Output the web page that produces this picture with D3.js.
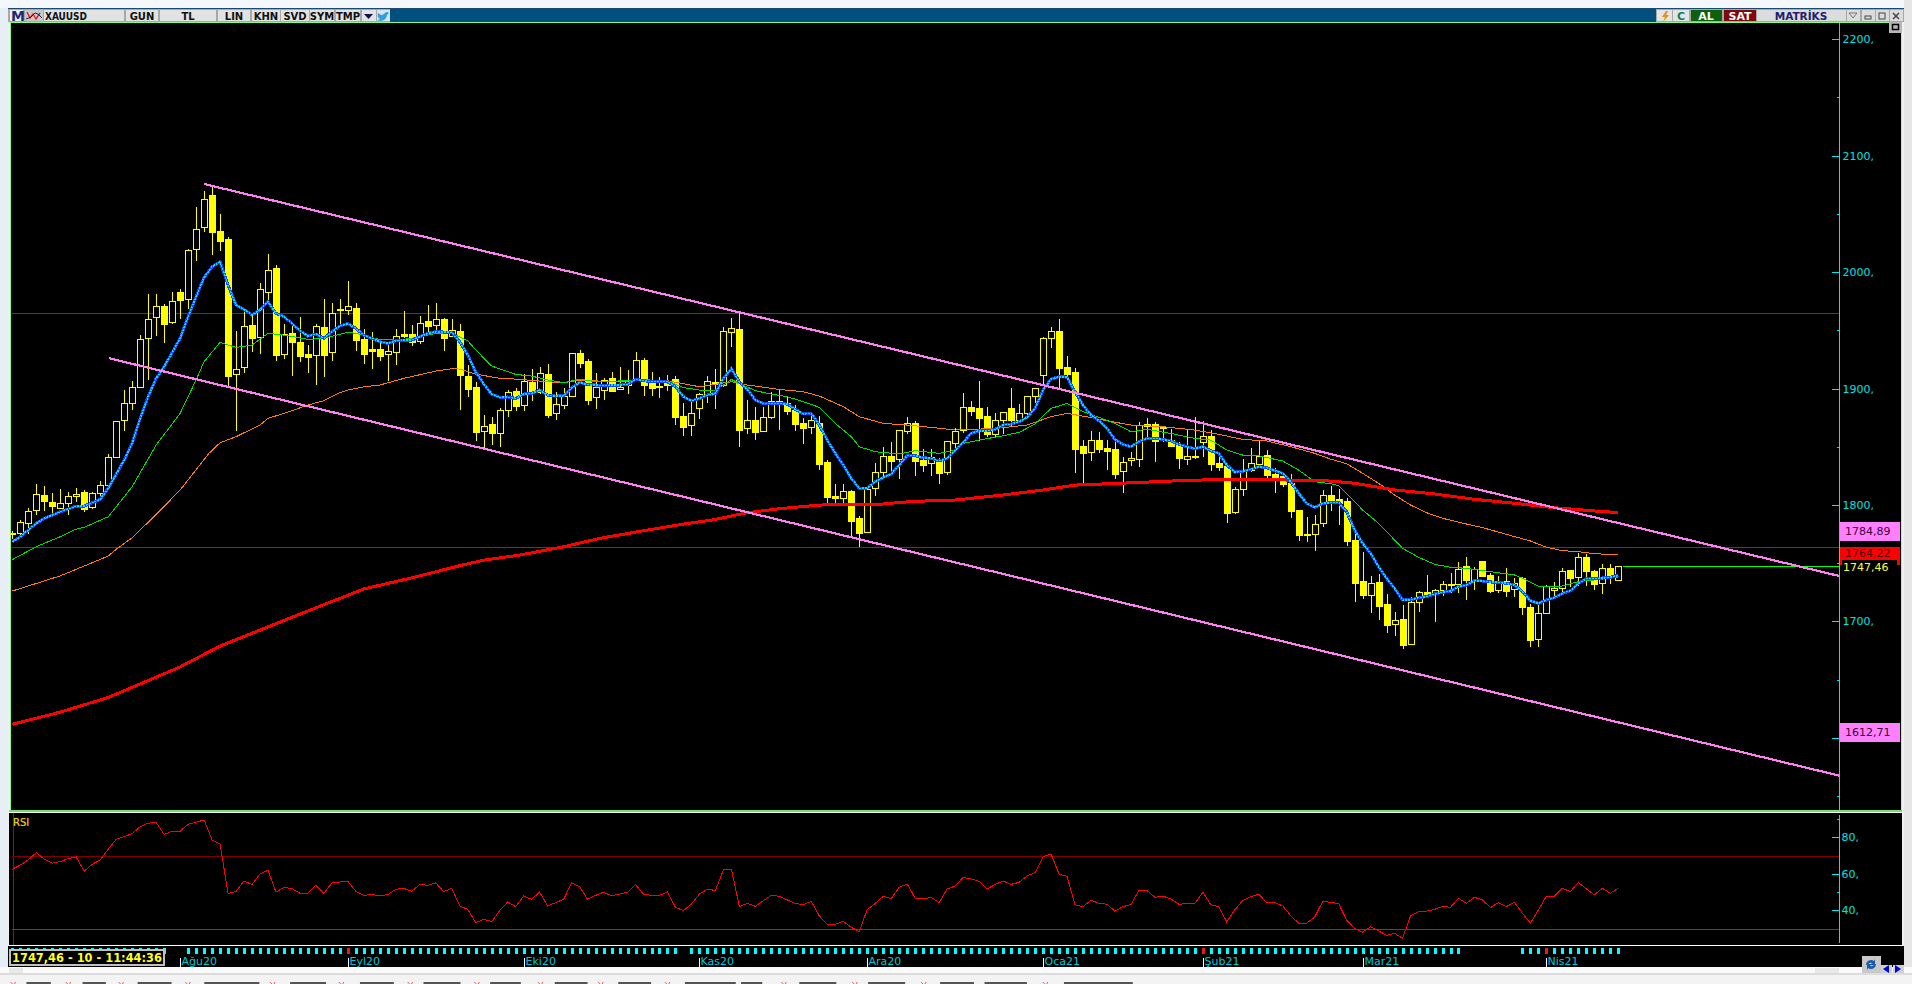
<!DOCTYPE html>
<html><head><meta charset="utf-8"><title>XAUUSD</title>
<script src="https://d3js.org/d3.v7.min.js"></script>
<style>html,body{margin:0;padding:0;background:#f0f0f0;overflow:hidden}svg{display:block}text{font-family:"DejaVu Sans",sans-serif}</style>
</head><body><svg id="c" width="1912" height="984"></svg>
<script>
// ---------- candle values (one per session) ----------
const opens=[1775.8,1775.5,1785,1795,1808.2,1802.2,1797.9,1801.9,1808.2,1811,
1797.6,1809.6,1817.6,1840.8,1872.6,1887.2,1901,1942.8,1961.1,1970.8,
1956.5,1982.9,1976.6,2020.1,2038.1,2066.2,2035.3,2028.4,1912.1,1917.9,
1954.5,1943.6,1982.3,2003.5,1929.6,1947.4,1939.9,1929.6,1928.5,1952.8,
1930.8,1968.3,1966.8,1969.1,1942.5,1933.6,1933.9,1929.3,1930.8,1946.8,
1946.8,1940.5,1957.7,1954.2,1959.7,1944.5,1949.4,1910.7,1901.3,1863.7,
1869.2,1861.2,1881.5,1897.8,1885.8,1905.6,1896.4,1912.4,1879.2,1885.8,
1893.5,1930.2,1923.6,1892.1,1898.7,1909,1899.5,1903,1907.8,1924.5,
1904.7,1901.8,1906.7,1908.1,1876.3,1868,1883.5,1894.7,1905.6,1903,
1948.8,1951.1,1865.5,1872.9,1863.2,1874.9,1889.2,1887.2,1881.5,1870,
1866.3,1870.3,1836.8,1807.6,1805.9,1811.9,1788.7,1776.4,1814.2,1827.7,
1842,1838.8,1862.9,1870,1838.5,1835.7,1838.5,1827.7,1853.7,1863.7,
1884.1,1882.9,1876.3,1860.3,1872.3,1883.2,1872.3,1878.3,1892.9,1911,
1943.1,1949.4,1918.4,1914.1,1850.6,1844.8,1855.7,1848.8,1848,1828.5,
1838,1839.7,1869.5,1869.2,1866.9,1855.7,1851.7,1839.7,1842,1853.4,
1859.1,1835.9,1833.4,1793.3,1813.9,1829.4,1835.1,1842.8,1826.5,1825.1,
1819,1795.6,1775,1774.4,1784.1,1808.5,1805,1803.3,1769.9,1734.6,
1722.6,1733.8,1714.9,1697.1,1702,1679.9,1716,1725.2,1723.8,1726.3,
1732.1,1732.1,1747.5,1734.9,1751.8,1739.8,1726.6,1734.6,1727.2,1736.9,
1712.3,1684.5,1707.4,1726.3,1728,1744.1,1737.8,1755.3,1743.2,1732.3,
1745.8,1735.5];
const closes=[1774.7,1785,1795,1809,1802.7,1798.4,1801.9,1807.9,1809.6,1796.7,
1809.9,1816.8,1841.4,1871.8,1887.2,1901,1942.2,1959.4,1970.6,1955.4,
1974.9,1976,2018.7,2037.3,2062.5,2034.7,2026.7,1910.7,1916.4,1953.4,
1943.4,1985.2,2001.5,1928.7,1946.5,1939.4,1927.9,1927.3,1953.4,1928.7,
1964.6,1967.7,1970.6,1941.6,1929.6,1931.9,1927.9,1931.9,1944.8,1945.1,
1939.6,1955.9,1953.7,1959.4,1943.6,1949.9,1911.6,1899.5,1862.9,1867.7,
1861.2,1881.2,1896.7,1884.9,1906.4,1897.5,1913,1877.2,1886.9,1893.5,
1930.2,1921.9,1890.1,1901,1907.6,1897.8,1901,1906.7,1924.5,1903,
1900.7,1901.3,1903,1875.5,1866.9,1878.6,1895.2,1906.1,1903.8,1949.1,
1951.9,1864.3,1872.6,1862.9,1875.2,1888.9,1887.2,1880.6,1869.8,1866,
1872.6,1835.1,1806.7,1806.2,1811.6,1786.1,1775.8,1813.6,1827.9,1841.7,
1837.7,1864,1870,1837.7,1834.2,1840.8,1827.4,1854.6,1863.7,1883.8,
1880.6,1874.6,1860.9,1872.6,1879.5,1872.6,1878.6,1893.2,1900.1,1943.1,
1949.1,1917.6,1912.4,1848,1844.5,1855.4,1848,1846.3,1826.5,1836.5,
1840,1868.9,1868,1854.3,1866.3,1850.8,1840.2,1842,1841.4,1858.9,
1835.4,1832.8,1793.3,1813.3,1829.4,1835.7,1842.2,1825.6,1822.8,1817.9,
1794.7,1774.1,1774.4,1783.2,1808.2,1804.2,1801.9,1768.9,1733.2,1722.6,
1732.6,1713.2,1696.8,1700.8,1679.6,1716.3,1724.9,1722.6,1726.6,1731.8,
1731.5,1744.9,1735.5,1744.9,1738.9,1726,1734.4,1726,1732.6,1711.7,
1683.9,1706.9,1730.3,1728.3,1742.9,1737.2,1755,1743.2,1732.3,1745.5,
1737.8,1747.46];
const highs=[1777.5,1787,1797.3,1817.9,1816.2,1810.5,1813.6,1811,1814.8,1812.8,
1811.3,1820.5,1843.4,1871.8,1898.7,1906.7,1945.9,1981.2,1981.2,1972.6,
1982.9,1985.7,2020.1,2056.2,2069.7,2074.8,2049.9,2030.4,1949.4,1966.8,
1963.1,1990.9,2015.5,2006,1955.4,1954.5,1961.4,1937.3,1955.1,1976.9,
1973.4,1976.9,1992.3,1973.7,1951.1,1948.2,1939.6,1938.8,1950.8,1966.6,
1954.5,1962.5,1971.7,1973.1,1960.8,1959.7,1955.4,1920.2,1905.6,1877.2,
1875.5,1883.2,1898.7,1900.1,1912.1,1916.4,1918.2,1921,1897.2,1900.1,
1930.2,1932.8,1925.3,1913,1908.7,1914.1,1918.4,1915.9,1931.3,1925.9,
1914.1,1910.1,1911.6,1910.7,1887.2,1888.6,1896.4,1910.7,1916.7,1953.1,
1960.5,1964.6,1890.1,1884.4,1883.8,1897.2,1898.7,1893,1885.8,1874.3,
1880,1876.3,1838.5,1817.9,1817.9,1812.8,1790.4,1816.5,1836.2,1850,
1854.3,1864.3,1875.2,1872,1847.7,1847.7,1840,1855.1,1865.7,1895.8,
1888.9,1906.4,1883.8,1878.6,1880.1,1900.4,1886.6,1893.2,1900.1,1943.9,
1952.5,1959.7,1927.9,1917.3,1855.7,1863.4,1862.6,1855.7,1857.1,1840.8,
1845.1,1870.9,1874.6,1870.9,1867.2,1864.9,1854.3,1864.9,1875.2,1872,
1864.3,1844.3,1834.2,1815,1839.4,1848.6,1855.7,1847.1,1831.4,1828.2,
1826.5,1795.6,1789.3,1791.3,1812.8,1816.2,1813.3,1805.9,1775.6,1759.8,
1738.9,1740.6,1723.5,1708.3,1714,1721.2,1726,1739.8,1727.5,1734.6,
1741.5,1751.2,1755,1747,1751.8,1741.8,1738.9,1745.5,1737.2,1737.8,
1714.6,1715.4,1730.9,1733.5,1745.5,1744.1,1758.4,1757.8,1744.1,1749.2,
1749.2,1747.46];
const lows=[1770.4,1772.7,1775,1791.6,1795,1793.3,1797.9,1791.6,1802.7,1794.1,
1796.1,1805.6,1815.6,1840.8,1863.7,1881.5,1901,1907.3,1945.4,1939.4,
1955.4,1960,1968.6,2009.8,2034.7,2014.7,2018.1,1901.5,1863.7,1913.6,
1931.3,1929.6,1976,1923.6,1925.3,1911,1922.7,1913.6,1903,1909.6,
1923.6,1954.5,1963.1,1932.2,1921,1916.4,1923.3,1906.4,1920.2,1943.1,
1936.8,1938.2,1946.8,1950.2,1932.2,1944.5,1881.5,1892.4,1854.9,1848.6,
1851.4,1849.7,1875.5,1880.6,1880.9,1889.2,1895.5,1874.6,1872.9,1882.1,
1893.5,1917.6,1885.8,1882.4,1890.1,1897.2,1898.7,1895.2,1907.3,1893.5,
1893.5,1892.1,1897.8,1868.6,1859.4,1859.4,1873.8,1887.8,1882.4,1901.5,
1935.9,1850,1860.9,1855.7,1862.9,1873.5,1864.3,1877.2,1863.5,1852.3,
1860.9,1829.9,1800.4,1800.4,1801.3,1773.2,1764.1,1776.1,1807.9,1823.4,
1827.1,1822.2,1860.6,1824.8,1828.2,1825.1,1818.2,1825.9,1847.1,1862,
1876.6,1854.6,1858,1857.1,1860.6,1867.7,1871.5,1877.2,1887.2,1903,
1934.8,1900.1,1906.4,1827.4,1817,1837.7,1844.3,1829.9,1822.2,1810.2,
1833.4,1832.8,1857.7,1836.8,1854.3,1850,1830.8,1834.2,1839.7,1841.4,
1829.1,1829.1,1784.7,1792.1,1807.9,1828.5,1834.2,1820.5,1810.5,1815,
1789,1768.9,1768.4,1760.6,1781.2,1795,1782.7,1764.6,1716.9,1719.2,
1707.4,1701.1,1690.2,1687.7,1676.5,1679.6,1708,1722,1699.4,1721.7,
1724.3,1724,1718.3,1726.9,1737.8,1724.6,1724.6,1720.9,1721.2,1705.4,
1677.9,1678.2,1706.9,1720.6,1725.5,1729.8,1730.3,1730.3,1726.9,1723.5,
1732.1,1734.9];
// ---------- moving averages, read as [session index, price] ----------
const maFast=[[0,1768.4],[1,1772.7],[3,1784.1],[4,1788.4],[6,1794.1],[8,1799],[9,1799],[11,1804.7],[12,1814.2],[14,1838.5],[15,1852.9],[16,1874.3],[17,1893],[18,1908.7],[19,1918.7],[21,1943.1],[22,1961.7],[23,1978.9],[24,1995.5],[25,2004.6],[26,2008.9],[27,1988.9],[28,1971.7],[29,1968],[30,1963.1],[31,1967.4],[32,1974.6],[33,1964.5],[34,1961.7],[35,1955.9],[36,1949.7],[37,1945.1],[38,1946.8],[39,1943.1],[40,1948.8],[41,1953.7],[42,1955.7],[43,1951.7],[44,1945.9],[45,1943.1],[46,1940.2],[47,1938.8],[48,1941.1],[49,1941.6],[50,1941.6],[51,1944.5],[52,1947.4],[53,1948.8],[54,1948.5],[55,1948.2],[56,1940.2],[57,1928.7],[58,1914.4],
[59,1903.8],[60,1895.2],[61,1892.4],[62,1892.7],[63,1891.5],[64,1895.2],[65,1895.8],[66,1898.7],[67,1894.4],[68,1893.5],[69,1893.8],[70,1900.7],[71,1905.3],[72,1903.3],[73,1903],[74,1902.4],[75,1903],[76,1903],[77,1903.5],[78,1908.1],[79,1906.7],[80,1905.8],[81,1905.8],[82,1905.8],[83,1901.5],[84,1893],[85,1889.5],[86,1891.5],[87,1894.4],[88,1895.8],[89,1908.7],[90,1917],[91,1905.8],[92,1899.2],[93,1890.1],[94,1887.2],[95,1887.2],[96,1887.2],[97,1886.6],[98,1882.1],[99,1878.1],[100,1878.6],[101,1868.6],[102,1855.7],[103,1844.3],[104,1834.2],[105,1822.8],[106,1814.2],[107,1814.5],[108,1819.9],[109,1823.6],[110,1826.5],[111,1834.2],[112,1842.3],[113,1842.3],[114,1840.5],[115,1840],[116,1837.7],[117,1840],[118,1847.1],
[119,1853.7],[120,1861.4],[121,1863.7],[122,1863.7],[123,1864.9],[124,1868.6],[125,1869.5],[126,1871.5],[127,1875.2],[128,1882.9],[129,1898.7],[130,1908.1],[131,1910.1],[132,1909.8],[133,1897.2],[134,1885.8],[135,1877.2],[136,1872.3],[137,1865.7],[138,1856.3],[139,1852],[140,1850],[141,1854.3],[142,1857.1],[143,1857.1],[144,1856.3],[145,1854.9],[146,1852],[147,1850],[148,1848.3],[149,1850],[150,1846.5],[151,1844.3],[152,1834.2],[153,1828.2],[154,1828.8],[155,1830.5],[156,1832.8],[157,1831.9],[158,1829.4],[159,1827.1],[160,1819.9],[161,1809.9],[162,1801.3],[163,1797.9],[164,1801.3],[165,1801.9],[166,1802.2],[167,1794.1],
[168,1778.5],[169,1767],[170,1758.4],[171,1747],[172,1736.9],[173,1728.3],[174,1718.3],[175,1718.3],[176,1720.3],[177,1721.2],[178,1723.5],[179,1724.9],[180,1726],[181,1729.8],[182,1731.2],[183,1734.9],[184,1734.6],[185,1733.8],[186,1733.5],[187,1732.6],[188,1731.2],[189,1725.5],[190,1717.7],[191,1715.4],[192,1718.3],[193,1720.3],[194,1724],[195,1726.3],[196,1732.6],[197,1736.6],[198,1736.6],[199,1737.2],[200,1737.8],[201,1739.5]];
const maMid=[[0,1753],[3,1764.1],[4,1766.9],[6,1772.7],[8,1779.2],[9,1780.7],[12,1789.8],[15,1815.6],[18,1851.4],[21,1878.6],[23,1907.3],[24,1923],[26,1939.6],[28,1935.3],[30,1937.3],[32,1947.4],[34,1945.9],[37,1942.2],[39,1943.1],[42,1948.2],[43,1947.4],[46,1942.2],[48,1941.6],[50,1943.1],[53,1947.4],[55,1947.4],[57,1941.1],[58,1933.1],[60,1919.3],[63,1912.1],[65,1910.7],[67,1907.3],[69,1905],[71,1908.1],[73,1905.8],[77,1906.7],[78,1907.8],[82,1906.7],[84,1900.7],[86,1898.7],[88,1898.7],[89,1903],[90,1907.8],[91,1904.4],[93,1898.1],[95,1895.2],[97,1892.9],[99,1888.7],[101,1883.8],[103,1870],[105,1858.6],[106,1850],[108,1845.7],[111,1843.7],[113,1846.6],[116,1844.3],[118,1847.1],[119,1852.8],[121,1855.7],[124,1859.4],[126,1862.3],[128,1869.5],[130,1882.9],[132,1887.2],[134,1880.1],[136,1875.2],[138,1870],[140,1862.9],[142,1864.9],[145,1861.4],[148,1857.1],[150,1855.7],[152,1847.1],[154,1842.8],[156,1842.2],[159,1837.7],[161,1829.9],[163,1819.9],[165,1818.2],[166,1816.6],[168,1802.8],[169,1795.6],[171,1784.2],[173,1769.9],[174,1762.7],[176,1755],[178,1749],[180,1746.4],[182,1745.5],[185,1742.7],[188,1739.8],[189,1736.9],[191,1730.3],[194,1730.3],[196,1734.1],[198,1735.5],[201,1737.8]];
const maSlow=[[0,1726],[6,1739],[12,1756],[13,1761.8],[15,1771.8],[17.5,1788.4],[21,1812.7],[24.6,1844.2],[26,1853.4],[28,1858.6],[31,1868.6],[32,1874.3],[35,1880.9],[37,1885.8],[39,1889.5],[41,1896.4],[42,1898.7],[44,1901.5],[46,1903],[49,1908.7],[53,1915],[55,1917],[56,1916.7],[58,1912.4],[61,1908.7],[63,1908.1],[67,1905.8],[69,1905],[71,1907.3],[75,1905.8],[78,1906.7],[82,1906.7],[86,1901.5],[90,1905.8],[92,1903],[96,1899.2],[99,1897.2],[101,1893.5],[104,1884.4],[106,1875.8],[109,1870],[112,1868.6],[115,1866.6],[118,1864.3],[123,1865.7],[127,1868.6],[130,1875.8],[132,1878.6],[134,1876.3],[137,1872.3],[140,1868.6],[144,1867.2],[148,1864.3],[151,1860.6],[154,1856.3],[157,1854.9],[160,1850],[163,1844.3],[165,1839.3],[167,1835.4],[169,1827.1],[171,1818.6],[173,1808.5],[175,1799.9],[177,1793.3],[179,1788.5],[182,1783.6],[184,1780.5],[187,1774.7],[190,1769],[192,1763.6],[194,1760.7],[196,1759.8],[198,1758.1],[201,1757]];
const maLong=[[0,1611.5],[6,1622],[12,1634.5],[21,1660.8],[26,1678.7],[36.6,1707.8],[44,1727.8],[50,1737.3],[56,1747.8],[59,1752.5],[63.5,1756.9],[69,1764],[73.5,1771.2],[79.5,1778.4],[84,1783.5],[87.6,1787],[92,1793.3],[96,1796.7],[101,1799.9],[108,1800.2],[112.7,1803],[118,1804.2],[124,1808.5],[129,1812.8],[133,1817],[140,1819],[147.8,1821.3],[156,1821.9],[160,1821.3],[165,1820.5],[168,1818.6],[173,1812.8],[178,1809.4],[183,1804.8],[188,1801.4],[193,1797.6],[198,1794.8],[201,1793.4]];
// ---------- channel lines and horizontal levels ----------
const channelTop=[[24,2075.7],[228.6,1739]];
const channelBottom=[[12.1,1926],[228.6,1567.5]];
const levelRed=[1964.6,1763.5];
const lastPrice=1747.46;
// ---------- RSI, one per session ----------
const rsi=[62.5,64.8,67.6,71.6,68,65.8,66.7,68.3,69.2,61.4,65.2,67.6,73.4,78.9,80.4,82,85.8,87.7,88.2,81.6,83.3,83.3,87.1,88.2,89.5,78.5,76.3,49.3,50.2,56.1,54.1,59.9,61.9,50,52.6,51.9,49.3,49.3,53.7,49.3,55,55.5,55.9,50.4,48.2,48.6,48,48.6,51.5,52,50.4,54.2,53.7,55,50.2,52,42.4,40.5,33.2,35.1,33.8,39.8,44.6,42,47.8,46,50,42.4,44.2,46,55,53,46,48.2,49.9,47.9,48.9,49.9,54.1,48.8,48.2,48.2,50,41.6,39.8,43.5,48.9,51.5,50.9,62.1,62.6,42,43.8,42.2,45.3,48.2,47.7,45.7,43.7,
43.1,44.9,36.9,32.3,32.3,34,30.7,28.3,40.5,43.8,47.7,46.4,52.6,54.4,46.6,46.2,47.1,44.2,51.7,53.3,58,57.2,55.9,51.7,54.1,56.1,54.2,55.3,58.8,60.6,69.4,70.9,59.9,58.6,43.1,42,45.5,43.8,43.3,39.5,42,43.1,50.9,50.9,47.1,47.8,46.2,43.3,43.7,43.7,49.9,43.1,42,33.6,40.2,45.3,47.5,48.8,44.2,44.2,42.4,37.1,32.9,32.9,36.2,44.9,44.4,43.7,34.7,30,28.1,31,28.7,26.3,27.4,24.7,36.9,39.3,39.5,40.5,42.2,41.6,46.6,43.8,47.1,45.7,41.5,44.2,42,44.4,38.4,32.9,40.2,47.7,47.7,52.1,50.2,55.3,51.7,48.4,52.1,49.3,52.1];
const rsiLevels=[70,30];
// ---------- axis labels ----------
const priceMajor=[2200,2100,2000,1900,1800,1700];
const priceUnlabelled=[1600];
const priceMinor=[2150,2050,1950,1850,1750,1650,1550];
const rsiMajor=[80,60,40];
const rsiMinor=[90,50];
const months=["Ağu20","Eyl20","Eki20","Kas20","Ara20","Oca21","Şub21","Mar21","Nis21"];
const monthStart=[21,42,64,86,107,129,149,169,192];
const skippedTicks=[20,21,84,182,183,184,185,186,187,188];
const redTicks=[42,149,192];
const toolbar=[["GUN",126,158],["TL",160,216],["LIN",218,250],["KHN",252,280],["SVD",281,309],["SYM",310,334],["TMP",336,360]];
const priceTags=[["1784,89",522,19,"#ff80ff","#400040",535],["1764,22",547,18,"#ff0000","#500000",557],["1612,71",723,19,"#ff80ff","#400040",736]];
const statusText="1747,46 - 10 - 11:44:36";

// ---------- scales ----------
const svg=d3.select("#c");
const x=d3.scaleLinear().domain([0,201]).range([12.3,1618.3]);
const y=d3.scaleLinear().domain([2200,1700]).range([39.3,621.3]);
const yR=d3.scaleLinear().domain([80,40]).range([837.3,910.3]);
const AX=1839.5;
const rect=(g,a,b,w,h,f)=>g.append("rect").attr("x",a).attr("y",b).attr("width",w).attr("height",h).attr("fill",f);
const hline=(g,a,b,yy,c,sw)=>g.append("line").attr("x1",a).attr("x2",b).attr("y1",yy).attr("y2",yy).attr("stroke",c).attr("stroke-width",sw||1).attr("shape-rendering","crispEdges");
const vline=(g,xx,a,b,c,sw)=>g.append("line").attr("x1",xx).attr("x2",xx).attr("y1",a).attr("y2",b).attr("stroke",c).attr("stroke-width",sw||1).attr("shape-rendering","crispEdges");

// ---------- window chrome ----------
const chrome=svg.append("g");
rect(chrome,0,0,1912,984,"#f0f0f0");
rect(chrome,0,0,1912,8,"#f4f7fb");
rect(chrome,0,8,8,960,"#e8eef6");
rect(chrome,8,8,1896,1,"#1a4a70");
rect(chrome,390,9,1266,13,"#00507f");
rect(chrome,8,9,382,13,"#a8a8a8");
rect(chrome,1656,9,248,13,"#a8a8a8");
rect(chrome,1904,0,8,968,"#e6e6e6");
rect(chrome,9,22,1893,1,"#80ff80");
rect(chrome,10,23,1,788,"#80ff80");
rect(chrome,1901,23,1,788,"#b0f0b0");
rect(chrome,11,23,1890,787,"#000");
rect(chrome,9,810,1893,2,"#70e070");
rect(chrome,9,812,1893,1,"#ffffff");
rect(chrome,9,813,1893,132,"#000");
rect(chrome,9,945,1893,1,"#ffffff");
rect(chrome,8,946,1896,21,"#000");
rect(chrome,0,967,1912,6,"#fafafa");
rect(chrome,0,973,1912,2,"#dcdcdc");
rect(chrome,0,975,1912,9,"#f3f3f3");

// toolbar
rect(chrome,10,10,13,11,"#f0f0f0");
chrome.append("text").attr("x",11).attr("y",21).attr("font-size",14).attr("font-weight",700).attr("fill","#1a2a70").text("M");
rect(chrome,25,10,18,11,"#c8c8c8");
chrome.append("path").attr("d",d3.line()([[27,12],[30,18],[33,14],[36,19],[40,13]])).attr("fill","none").attr("stroke","#e02020").attr("stroke-width",1.4);
chrome.append("path").attr("d",d3.line()([[26,19],[31,17],[35,13],[38,14],[42,18]])).attr("fill","none").attr("stroke","#202070").attr("stroke-width",1);
rect(chrome,44,10,80,11,"#e2e2e2");
chrome.append("text").attr("x",45).attr("y",20).attr("font-size",10).attr("font-weight",700).attr("fill","#101010").attr("textLength",42).attr("lengthAdjust","spacingAndGlyphs").text("XAUUSD");
toolbar.forEach(b=>{
  rect(chrome,b[1],10,b[2]-b[1],11,"#e2e2e2");
  chrome.append("text").attr("x",(b[1]+b[2])/2).attr("y",20).attr("text-anchor","middle").attr("font-size",10).attr("font-weight",700).attr("fill","#101010").text(b[0]);
});
rect(chrome,362,10,14,11,"#e2e2e2");
chrome.append("path").attr("d","M364 14h9l-4.5 5z").attr("fill","#101050");
rect(chrome,377,10,13,11,"#d8e4ee");
chrome.append("path").attr("d","M378 13l3 2c2 0 3-1 5-3 2 0 3 1 3 1l-2 2c0 3-3 6-7 6l-3-1c2 0 3-1 3-1-2-1-3-3-2-6z").attr("fill","#30a0e0");
// right buttons
rect(chrome,1657,10,15,11,"#e4e4e4");
chrome.append("path").attr("d","M1666 11l-4 6h3l-2 5 6-7h-3l2-4z").attr("fill","#e89010");
rect(chrome,1673,10,16,11,"#e4e4e4");
chrome.append("text").attr("x",1681).attr("y",20).attr("text-anchor","middle").attr("font-size",11).attr("font-weight",700).attr("fill","#108060").text("C");
rect(chrome,1691,10,31,11,"#0e600e");
chrome.append("text").attr("x",1706).attr("y",20).attr("text-anchor","middle").attr("font-size",11).attr("font-weight",700).attr("fill","#fff").text("AL");
rect(chrome,1724,10,32,11,"#800808");
chrome.append("text").attr("x",1740).attr("y",20).attr("text-anchor","middle").attr("font-size",11).attr("font-weight",700).attr("fill","#fff").text("SAT");
rect(chrome,1757,10,89,11,"#dcdcdc");
chrome.append("text").attr("x",1801).attr("y",20).attr("text-anchor","middle").attr("font-size",10.5).attr("font-weight",700).attr("fill","#202070").text("MATRİKS");
[1847,1862,1876,1890].forEach(a=>rect(chrome,a,10,13,11,"#dcdcdc"));
chrome.append("path").attr("d","M1849 13h8l-4 5z").attr("fill","none").attr("stroke","#777");
chrome.append("rect").attr("x",1865).attr("y",16).attr("width",6).attr("height",3).attr("fill","none").attr("stroke","#444");
chrome.append("rect").attr("x",1879).attr("y",13).attr("width",6).attr("height",6).attr("fill","none").attr("stroke","#444");
chrome.append("path").attr("d","M1893 13l6 6M1899 13l-6 6").attr("stroke","#444").attr("stroke-width",1.5);
rect(chrome,1889,22,13,11,"#b8b8b8");
chrome.append("rect").attr("x",1892.5).attr("y",24.5).attr("width",6).attr("height",5).attr("fill","none").attr("stroke","#000").attr("stroke-width",1.5);

// bottom strip fragments (clipped tab row of the window)
[10,62,112,175,255,320,385,448,508,565,628,738,805,870,985].forEach(a=>{
  const px=a/0.9446;
  svg.append("path").attr("d",`M${px} 982l2 2M${px+5} 982l-1 2`).attr("stroke","#e06060").attr("fill","none");
});
[[25,48],[78,100],[130,162],[193,245],[274,308],[340,372],[400,435],[463,492],[524,555],[584,615],[647,695],[700,720],[755,790],[820,855],[888,920],[930,970],[1005,1070]].forEach(d=>{
  rect(chrome,d[0]/0.9446,982,(d[1]-d[0])/0.9446,2,"#555");
});
// scroll + navigation widgets
rect(chrome,9,968,14,5,"#e8e8e8");
rect(chrome,1815,968,24,5,"#e8e8e8");
rect(chrome,1862,956,19,17,"#c8c8c8");
chrome.append("path").attr("d","M1866 965a5 5 0 0 1 8-4l1-2v6h-5l2-2a3 3 0 0 0-4 2zM1876 964a5 5 0 0 1-8 4l-1 2v-6h5l-2 2a3 3 0 0 0 4-2z").attr("fill","#1c5cb0");
rect(chrome,1881,965,11,8,"#d0d0d0");rect(chrome,1893,965,11,8,"#d0d0d0");
chrome.append("path").attr("d","M1883 969l6-4v8zM1901 969l-6-4v8z").attr("fill","#0000e0");

// ---------- price panel ----------
const main=svg.append("g");
levelRed.forEach(v=>hline(main,12,AX,Math.round(y(v))+.5,"#e00000"));

const idx=d3.range(opens.length);
const candles=main.append("g").selectAll("g").data(idx).join("g");
candles.append("line")
  .attr("x1",i=>Math.round(x(i))+.5).attr("x2",i=>Math.round(x(i))+.5)
  .attr("y1",i=>y(highs[i])).attr("y2",i=>y(lows[i]))
  .attr("stroke","#ffff00").attr("stroke-width",1).attr("shape-rendering","crispEdges");
candles.append("rect")
  .attr("x",i=>Math.round(x(i))-2.5)
  .attr("width",6)
  .attr("y",i=>Math.round(y(Math.max(opens[i],closes[i])))+.5)
  .attr("height",i=>Math.max(1,Math.round(Math.abs(y(opens[i])-y(closes[i])))))
  .attr("fill",i=>closes[i]<opens[i]?"#ffff00":"#000")
  .attr("stroke","#ffff00").attr("stroke-width",1).attr("shape-rendering","crispEdges");

const lineP=d3.line().x(d=>x(d[0])).y(d=>y(d[1]));
const drawMA=(data,c,w,extra)=>main.append("path").attr("d",lineP(data)).attr("fill","none").attr("stroke",c).attr("stroke-width",w).attr("shape-rendering",extra||"crispEdges");
drawMA(maSlow,"#ff8000",1);
drawMA(maMid,"#00e000",1);
drawMA(maLong,"#ff0000",3);
drawMA(maFast,"#0050ff",3);
drawMA(maFast,"#20d0ff",1.5).attr("stroke-dasharray","2 1");
hline(main,x(201)+5,AX-1,Math.round(y(lastPrice))+.5,"#00ff00");
[channelTop,channelBottom].forEach(c=>main.append("path").attr("d",lineP(c)).attr("fill","none").attr("stroke","#ff80f0").attr("stroke-width",2.2).attr("shape-rendering","crispEdges"));

// price axis
vline(main,AX,23,810,"#00e8e8");
const axisP=d3.axisRight(y).tickValues(priceMajor).tickSize(0).tickFormat(d=>d+",");
const axisG=main.append("g").attr("transform",`translate(${AX+2},0)`).call(axisP);
axisG.select(".domain").remove();
axisG.selectAll("text").attr("x",1).attr("fill","#00e0e0").attr("font-size",11).attr("font-family","DejaVu Sans");
[...priceMajor,...priceUnlabelled].forEach(v=>hline(main,AX-8,AX,Math.round(y(v))+.5,"#00e8e8"));
priceMinor.forEach(v=>hline(main,AX-3,AX,Math.round(y(v))+.5,"#00e8e8"));
// tags
priceTags.forEach(t=>{
  rect(main,1840,t[1],60,t[2],t[3]);
  main.append("text").attr("x",1845).attr("y",t[5]).attr("font-size",11).attr("fill",t[4]).text(t[0]);
});
rect(main,1842,560,55,12,"#000");
main.append("text").attr("x",1843).attr("y",570.5).attr("font-size",11).attr("fill","#ffff40").text("1747,46");

// ---------- RSI panel ----------
const rs=svg.append("g");
vline(rs,13,813,945,"#602060");
rs.append("text").attr("x",13).attr("y",826).attr("font-size",10).attr("fill","#ffff00").attr("stroke","#ff4000").attr("stroke-width",.15).text("RSI");
hline(rs,12,AX,Math.round(yR(rsiLevels[0]))+.5,"#800000");
hline(rs,12,AX,Math.round(yR(rsiLevels[1]))+.5,"#008000");
rs.append("path").attr("d",d3.line().x((d,i)=>x(i)).y(d=>yR(d))(rsi)).attr("fill","none").attr("stroke","#ff0000").attr("stroke-width",1).attr("shape-rendering","crispEdges");
vline(rs,AX,815,943,"#00e8e8");
const axisR=d3.axisRight(yR).tickValues(rsiMajor).tickSize(0).tickFormat(d=>d+",");
const axisRG=rs.append("g").attr("transform",`translate(${AX+2},0)`).call(axisR);
axisRG.select(".domain").remove();
axisRG.selectAll("text").attr("x",0).attr("fill","#00e0e0").attr("font-size",11).attr("font-family","DejaVu Sans");
rsiMajor.forEach(v=>hline(rs,AX-8,AX,Math.round(yR(v))+.5,"#00e8e8"));
rsiMinor.forEach(v=>hline(rs,AX-3,AX,Math.round(yR(v))+.5,"#00e8e8"));

// ---------- time axis ----------
const tm=svg.append("g");
idx.filter(i=>!skippedTicks.includes(i)).forEach(i=>{
  rect(tm,Math.round(x(i))-1,948,3,6,redTicks.includes(i)?"#e02020":"#00ffff");
});
monthStart.forEach((m,k)=>{
  const px=Math.round(x(m))+.5;
  vline(tm,px,958,967,"#ffffff");
  tm.append("text").attr("x",px+1).attr("y",965).attr("font-size",11).attr("fill","#00c8d8").text(months[k]);
});
// status box
rect(tm,9,949,156,17,"#c0c0c0");
rect(tm,11,951,152,13,"#000");
tm.append("text").attr("x",12).attr("y",962).attr("font-size",12.5).attr("font-weight",700).attr("fill","#ffff20").attr("textLength",150).attr("lengthAdjust","spacingAndGlyphs").text(statusText);
</script></body></html>
